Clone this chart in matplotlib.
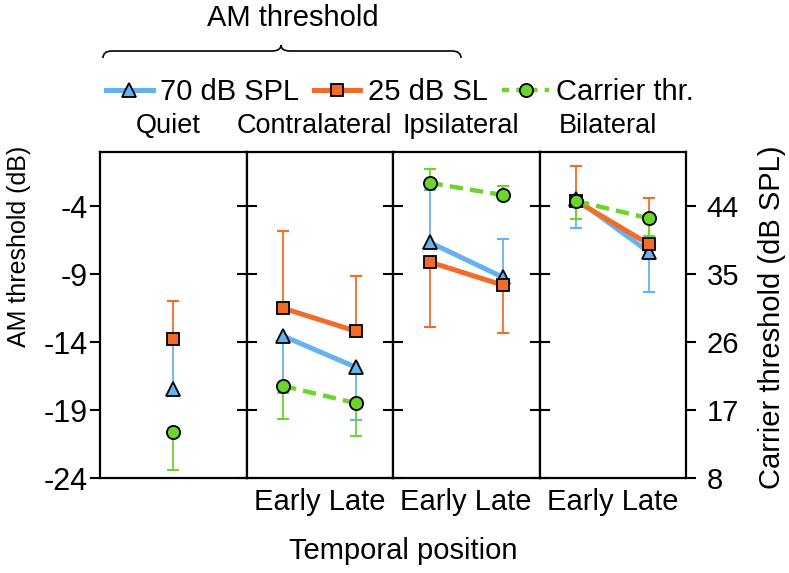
import numpy as np
import matplotlib
matplotlib.use("Agg")
import matplotlib.pyplot as plt
from matplotlib.lines import Line2D
from matplotlib.path import Path
from matplotlib.patches import PathPatch

plt.rcParams["font.family"] = ["Liberation Sans", "DejaVu Sans"]
plt.rcParams["font.size"] = 21
plt.rcParams["axes.unicode_minus"] = False

# data, per panel (Quiet has a single point, others Early/Late)
panels = ["Quiet", "Contralateral", "Ipsilateral", "Bilateral"]
positions = ["Early", "Late"]

spl70_mean = [[-17.45], [-13.55, -15.86], [-6.65, -9.22], [-3.45, -7.39]]
spl70_lo = [[0.0], [4.2, 3.9], [0.0, 0.0], [2.15, 2.9]]
spl70_hi = [[3.6], [0.0, 0.0], [3.85, 2.8], [0.0, 0.0]]

sl25_mean = [[-13.8], [-11.5, -13.2], [-8.1, -9.8], [-3.6, -6.8]]
sl25_lo = [[0.0], [0.0, 0.0], [4.8, 3.5], [0.0, 0.0]]
sl25_hi = [[2.8], [5.7, 4.05], [0.0, 0.0], [2.6, 3.4]]

carrier_mean = [[14.1], [20.2, 17.9], [47.1, 45.5], [44.7, 42.4]]
carrier_lo = [[5.1], [4.4, 4.4], [0.0, 0.0], [2.4, 2.3]]
carrier_hi = [[0.0], [0.0, 0.0], [1.8, 1.2], [0.0, 0.0]]

am_ticks = [-24, -19, -14, -9, -4]
carrier_ticks = [8, 17, 26, 35, 44]

BLUE = "#66B2EE"
ORANGE = "#F26B2B"
GREEN = "#6CD42C"

W, H = 789, 573


def fx(px):
    return px / W


def fy(py):
    return 1 - py / H


def one_sided(ax, xs, m, lo, hi, color):
    # only the non-zero side of each error bar is drawn
    for x, y, l, h in zip(xs, m, lo, hi):
        for d in (-l, h):
            if d != 0:
                ax.plot([x, x], [y, y + d], color=color, lw=1.3, zorder=2)
                ax.plot([x], [y + d], marker="_", ms=8, mew=1.5, color=color, zorder=2)


fig = plt.figure(figsize=(W / 100, H / 100), dpi=100)
left, right, top, bottom = 100, 686, 152, 478
pw = (right - left) / 4

for i, name in enumerate(panels):
    ax = fig.add_axes([fx(left + i * pw), fy(bottom), pw / W, (bottom - top) / H])
    axc = ax.twinx()
    xs = [0.5] if i == 0 else [0.25, 0.75]
    ax.set_xlim(0, 1)
    ax.set_ylim(-24, 0)
    axc.set_ylim(8, 51.2)

    one_sided(ax, xs, spl70_mean[i], spl70_lo[i], spl70_hi[i], BLUE)
    one_sided(ax, xs, sl25_mean[i], sl25_lo[i], sl25_hi[i], ORANGE)
    ax.plot(xs, spl70_mean[i], color=BLUE, lw=3.6, marker="^", ms=10,
            mfc=BLUE, mec="k", mew=1.3, zorder=3)
    ax.plot(xs, sl25_mean[i], color=ORANGE, lw=3.6, marker="s", ms=9,
            mfc=ORANGE, mec="k", mew=1.3, zorder=4)
    one_sided(axc, xs, carrier_mean[i], carrier_lo[i], carrier_hi[i], GREEN)
    axc.plot(xs, carrier_mean[i], color=GREEN, lw=3.2, ls=(0, (3, 1.6)),
             marker="o", ms=9.5, mfc=GREEN, mec="k", mew=1.3, zorder=3)

    for s in ax.spines.values():
        s.set_linewidth(1.6)
    for s in axc.spines.values():
        s.set_visible(False)

    ax.set_yticks(am_ticks)
    axc.set_yticks(carrier_ticks)
    if i == 0:
        ax.tick_params(axis="y", left=True, right=False, direction="out",
                       length=7, width=1.5, pad=2, labelsize=22)
        ax.set_xticks([])
    else:
        ax.tick_params(axis="y", left=True, right=False, direction="inout",
                       length=14, width=1.5, labelleft=False)
        # Early / Late sit together under the panel
        ax.set_xticks([0.5], [" ".join(positions)])
        ax.tick_params(axis="x", length=0, pad=7)
    if i < 3:
        axc.tick_params(axis="y", right=False, labelright=False)
    else:
        axc.tick_params(axis="y", right=True, direction="out", length=7,
                        width=1.5, pad=8, labelsize=21)

    fig.text(fx(left + (i + 0.5) * pw - 5), fy(133), name, ha="center", va="baseline",
             fontsize=19.5)

fig.text(fx(19), fy(246), "AM threshold (dB)", rotation=90, ha="center", va="center",
         fontsize=18)
fig.text(fx(772), fy(317), "Carrier threshold (dB SPL)", rotation=90, ha="center",
         va="center", fontsize=21)
fig.text(fx(403), fy(559), "Temporal position", ha="center", va="baseline")

handles = [
    Line2D([], [], color=BLUE, lw=3.6, marker="^", ms=10, mfc=BLUE, mec="k", mew=1.3),
    Line2D([], [], color=ORANGE, lw=3.6, marker="s", ms=9, mfc=ORANGE, mec="k", mew=1.3),
    Line2D([], [], color=GREEN, lw=3.2, ls=(0, (1.6, 1.6)), marker="o", ms=9.5,
           mfc=GREEN, mec="k", mew=1.3),
]
fig.legend(handles, ["70 dB SPL", "25 dB SL", "Carrier thr."], loc="center",
           bbox_to_anchor=(fx(400), fy(92)), ncol=3, frameon=False,
           handlelength=1.6, handletextpad=0.25, columnspacing=0.5, borderpad=0,
           numpoints=1)

# curly brace over the two AM threshold entries
bx0, bx1, bmid, by, btip, bend = 103, 461, 281, 51, 45, 58
verts = [(bx0, bend), (bx0, by), (bx0 + 9, by), (bmid - 9, by), (bmid, by), (bmid, btip),
         (bmid, by), (bmid + 9, by), (bx1 - 9, by), (bx1, by), (bx1, bend)]
codes = [Path.MOVETO, Path.CURVE3, Path.CURVE3, Path.LINETO, Path.CURVE3, Path.CURVE3,
         Path.CURVE3, Path.CURVE3, Path.LINETO, Path.CURVE3, Path.CURVE3]
brace = Path([(fx(x), fy(y)) for x, y in verts], codes)
fig.add_artist(PathPatch(brace, fc="none", ec="k", lw=1.2, transform=fig.transFigure))
fig.text(fx(293), fy(18), "AM threshold", ha="center", va="center")

fig.savefig("out.png", dpi=100)
plt.close("all")
